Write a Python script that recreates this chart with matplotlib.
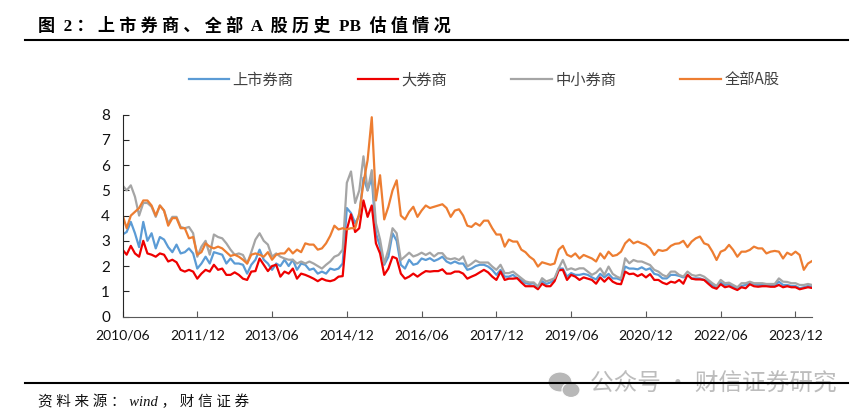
import matplotlib
matplotlib.use("Agg")
import matplotlib.pyplot as plt
from matplotlib.lines import Line2D
from matplotlib.patches import Ellipse

W, H = 865, 419
CJK = "Noto Sans CJK SC"

# months since 2010/06
tick_labels = ["2010/06", "2011/12", "2013/06", "2014/12", "2016/06",
               "2017/12", "2019/06", "2020/12", "2022/06", "2023/12"]
tick_months = [0, 18, 36, 54, 72, 90, 108, 126, 144, 162]
y_ticks = [0, 1, 2, 3, 4, 5, 6, 7, 8]

listed = [
    3.25, 3.35, 3.75, 3.3, 2.75, 3.75, 3.0, 3.3, 2.7, 3.15,
    3.05, 2.75, 2.55, 2.85, 2.5, 2.55, 2.7, 2.5, 1.9, 2.1,
    2.37, 2.1, 2.55, 2.5, 2.45, 2.1, 2.3, 2.1, 2.1, 2.05,
    1.7, 2.05, 2.25, 2.65, 2.25, 2.1, 1.85, 2.1, 2.0, 2.25,
    2.0, 2.25, 1.85, 2.1, 2.05, 1.85, 1.9, 1.7, 1.78, 1.7,
    1.9, 1.85, 1.9, 2.1, 4.3, 4.1, 3.7, 4.0, 5.5, 5.0,
    5.5, 3.3, 2.77, 2.05, 2.37, 3.3, 3.0, 2.05, 1.9, 2.25,
    2.05, 2.1, 2.3, 2.24, 2.31, 2.2, 2.27, 2.37, 2.18, 2.1,
    2.18, 2.1, 2.1, 1.85, 1.9, 2.0, 2.05, 2.05, 1.98, 1.85,
    1.65, 1.85, 1.58, 1.58, 1.65, 1.52, 1.45, 1.32, 1.29, 1.32,
    1.12, 1.4, 1.29, 1.35, 1.45, 1.9, 1.9, 1.58, 1.72, 1.65,
    1.65, 1.69, 1.65, 1.55, 1.47, 1.69, 1.55, 1.69, 1.51, 1.51,
    1.45, 1.98, 1.9, 1.9, 1.87, 1.95, 1.85, 1.91, 1.69, 1.65,
    1.51, 1.51, 1.65, 1.65, 1.61, 1.55, 1.65, 1.51, 1.51, 1.51,
    1.45, 1.38, 1.25, 1.16, 1.34, 1.25, 1.29, 1.18, 1.12, 1.21,
    1.25, 1.34, 1.29, 1.25, 1.25, 1.25, 1.21, 1.21, 1.38, 1.25,
    1.25, 1.21, 1.21, 1.12, 1.16, 1.21, 1.18,
]
large = [
    2.65, 2.45, 2.8, 2.5, 2.37, 3.0, 2.5, 2.45, 2.37, 2.5,
    2.45, 2.18, 2.25, 2.15, 1.85, 1.78, 1.85, 1.78, 1.5, 1.7,
    1.85, 1.78, 2.05, 1.85, 1.9, 1.65, 1.65, 1.75, 1.65, 1.5,
    1.45, 1.78, 1.8, 2.3, 2.05, 1.8, 2.0, 2.05, 1.58, 1.78,
    1.7, 1.9, 1.5, 1.7, 1.65, 1.58, 1.5, 1.4, 1.5, 1.43,
    1.4, 1.45, 1.58, 1.6, 3.45, 4.05, 3.35, 3.5, 4.6, 3.95,
    4.4, 2.9, 2.5, 1.65, 1.9, 2.37, 2.3, 1.7, 1.5, 1.58,
    1.7, 1.58, 1.7, 1.8, 1.78, 1.8, 1.8, 1.87, 1.7, 1.7,
    1.78, 1.78, 1.7, 1.5, 1.58, 1.65, 1.75, 1.85, 1.75, 1.58,
    1.45, 1.78, 1.45, 1.5, 1.5, 1.52, 1.35, 1.2, 1.2, 1.2,
    1.08, 1.3, 1.2, 1.2, 1.4, 1.83, 1.85, 1.45, 1.65, 1.58,
    1.45, 1.55, 1.5, 1.45, 1.3, 1.55, 1.38, 1.55, 1.38, 1.3,
    1.28, 1.78, 1.68, 1.7, 1.6, 1.68, 1.55, 1.68, 1.45, 1.45,
    1.34, 1.28, 1.38, 1.34, 1.45, 1.3, 1.65, 1.5, 1.47, 1.47,
    1.45, 1.3, 1.16, 1.1, 1.28, 1.16, 1.2, 1.12, 1.05, 1.16,
    1.12, 1.28, 1.2, 1.18, 1.2, 1.2, 1.18, 1.18, 1.25, 1.16,
    1.2, 1.16, 1.16, 1.08, 1.12, 1.16, 1.13,
]
small = [
    5.2, 5.0, 5.2, 4.75, 4.0, 4.5, 4.5, 4.35, 3.95, 4.4,
    4.2, 3.7, 3.95, 3.95, 3.55, 3.5, 3.55, 3.3, 2.37, 2.77,
    3.0, 2.45, 3.25, 3.15, 3.1, 2.9, 2.65, 2.45, 2.5, 2.44,
    2.1, 2.55, 3.05, 3.3, 3.0, 2.85, 2.37, 2.5, 2.37, 2.3,
    2.25, 2.25, 2.1, 2.18, 2.1, 2.18, 2.1, 2.0, 1.9, 2.05,
    2.18, 2.37, 2.44, 2.65, 5.3, 5.75, 4.5, 5.0, 6.35, 5.0,
    5.8, 3.7, 3.05, 2.1, 2.65, 3.5, 3.3, 2.24, 2.38, 2.53,
    2.38, 2.44, 2.53, 2.44, 2.53, 2.38, 2.51, 2.51, 2.31, 2.27,
    2.31, 2.24, 2.38, 1.98, 2.09, 2.22, 2.14, 2.14, 2.14, 1.98,
    1.85, 2.05, 1.72, 1.72, 1.78, 1.65, 1.52, 1.39, 1.35, 1.35,
    1.19, 1.52, 1.39, 1.45, 1.52, 1.91, 2.24, 1.85, 1.91, 1.85,
    1.91, 1.91, 1.78, 1.65, 1.74, 1.91, 1.65, 1.98, 1.69, 1.58,
    1.51, 2.31, 2.11, 2.24, 2.18, 2.18, 2.11, 2.04, 1.85, 1.78,
    1.65, 1.58, 1.78, 1.78, 1.65, 1.58, 1.78, 1.65, 1.61, 1.65,
    1.58, 1.45, 1.32, 1.21, 1.45, 1.32, 1.34, 1.25, 1.16, 1.32,
    1.32, 1.38, 1.32, 1.32, 1.32, 1.29, 1.29, 1.29, 1.51, 1.38,
    1.37, 1.32, 1.32, 1.25, 1.25, 1.29, 1.25,
]
all_a = [
    4.03, 3.5, 4.0, 4.15, 4.3, 4.6, 4.6, 4.4, 4.0, 4.4,
    4.2, 3.6, 3.9, 3.9, 3.5, 3.5, 3.1, 3.15, 2.45, 2.55,
    2.9, 2.77, 2.7, 2.77, 2.7, 2.55, 2.4, 2.45, 2.37, 2.25,
    2.1, 2.45, 2.5, 2.45, 2.37, 2.55, 2.25, 2.45, 2.5, 2.5,
    2.7, 2.5, 2.65, 2.55, 2.9, 2.85, 2.85, 2.65, 2.7, 2.9,
    3.2, 3.6, 3.45, 3.5, 3.45, 3.5, 3.5, 4.1, 5.3, 6.2,
    7.9, 4.6, 5.6, 3.85, 4.35, 5.0, 5.4, 4.0, 3.85, 4.15,
    4.35, 3.95, 4.2, 4.4, 4.3, 4.35, 4.4, 4.45, 4.3, 3.95,
    4.2, 4.25, 4.0, 3.6, 3.55, 3.7, 3.6, 3.8, 3.8, 3.5,
    3.25, 3.25, 2.77, 3.05, 2.97, 2.97, 2.65, 2.55, 2.37, 2.25,
    1.98, 2.15, 2.1, 2.05, 2.1, 2.65, 2.8, 2.45, 2.37, 2.5,
    2.3, 2.44, 2.37, 2.3, 2.18, 2.5, 2.3, 2.57, 2.4, 2.44,
    2.57, 2.9, 3.06, 2.9, 2.97, 2.9, 2.84, 2.7, 2.44, 2.64,
    2.6, 2.64, 2.8, 2.88, 2.9, 3.0, 2.75, 2.97, 3.1, 3.17,
    2.9, 2.84, 2.57, 2.24, 2.57, 2.64, 2.84, 2.64, 2.37, 2.57,
    2.57, 2.64, 2.77, 2.7, 2.7, 2.5, 2.57, 2.6, 2.57, 2.3,
    2.53, 2.44, 2.57, 2.44, 1.85, 2.1, 2.2,
]
months = list(range(len(all_a)))

series = [("上市券商", listed, "#5B9BD5"),
          ("大券商", large, "#EE0000"),
          ("中小券商", small, "#A5A5A5"),
          ("全部A股", all_a, "#ED7D31")]


def spaced(text, gap):
    # the report headings are letter-spaced, Latin runs stay tight
    out = text[0]
    for a, b in zip(text, text[1:]):
        if ord(a) > 127 or ord(b) > 127:
            out += gap
        out += b
    return out


fig = plt.figure(figsize=(W / 100, H / 100), dpi=100)
ax = fig.add_axes([122.5 / W, 1 - 316.5 / H, (811.7 - 122.5) / W, 201.8 / H])

for name, vals, col in series:
    ax.plot(months, vals, color=col, lw=1.6, label=name)

ax.set_xlim(0, 165.9)
ax.set_ylim(0, 8)
ax.set_xticks(tick_months)
ax.set_xticklabels(tick_labels)
ax.set_yticks(y_ticks)
for s in ["top", "right"]:
    ax.spines[s].set_visible(False)
ax.spines["bottom"].set_color("#595959")
ax.spines["left"].set_color("#262626")
ax.tick_params(axis="x", direction="in", length=4, color="#595959", pad=9,
               labelsize=10, labelcolor="#111111")
ax.tick_params(axis="y", direction="in", length=4, color="#262626", pad=9,
               labelsize=11, labelcolor="#111111")
for t in ax.get_xticklabels() + ax.get_yticklabels():
    t.set_family("Lato")

fig.legend(loc="center", bbox_to_anchor=(484 / W, 1 - 80 / H), ncol=4, frameon=False,
           prop={"family": CJK, "size": 11}, labelcolor="#404040",
           handlelength=2.67, handletextpad=0.2, columnspacing=4.2,
           borderpad=0, borderaxespad=0)

title = "图 2：上市券商、全部 A 股历史 PB 估值情况"
fig.text(38 / W, 1 - 25.5 / H, spaced(title, "\u2005"), va="center", ha="left", fontsize=12.3,
         fontweight="bold", family=["Liberation Serif", CJK], color="black")

source = "资料来源：wind，财信证券"
fig.text(38 / W, 1 - 401.5 / H, spaced(source, "\u2005"), va="center", ha="left", fontsize=10.5,
         style="italic", family=["Liberation Serif", CJK], color="#111111")

# watermark, sits under the footer rule
fig.text(590 / W, 1 - 384 / H, "公众号 · 财信证券研究", va="center", ha="left", fontsize=17,
         family=[CJK], color="#BCBCBC", zorder=1)
for cx, cy, ew, eh in [(560, 382, 24, 20), (571, 390, 18, 15)]:
    fig.add_artist(Ellipse((cx / W, 1 - cy / H), ew / W, eh / H, facecolor="#B8B8B8",
                           edgecolor="white", lw=0.8, transform=fig.transFigure, zorder=1))

# header and footer rules
fig.add_artist(Line2D([25 / W, 848 / W], [1 - 39.8 / H] * 2, color="black", lw=1.5, zorder=5))
fig.add_artist(Line2D([25 / W, 848 / W], [1 - 382.7 / H] * 2, color="black", lw=1.5, zorder=5))

fig.savefig("out.png", dpi=100)
